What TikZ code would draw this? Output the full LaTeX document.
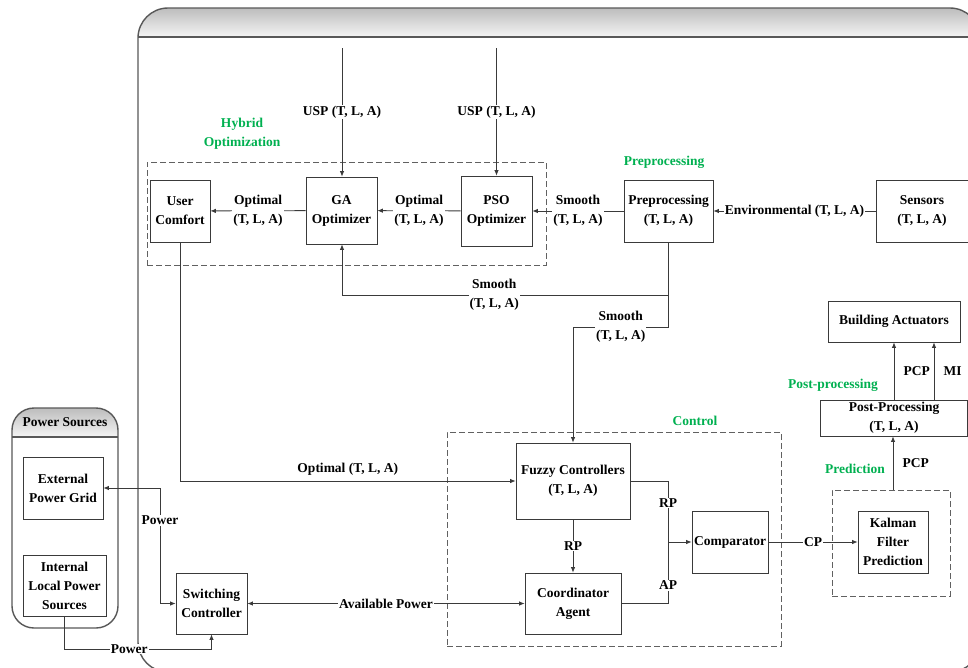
\documentclass[tikz,border=0pt]{standalone}
\usepackage{fontspec}
\setmainfont{Liberation Serif}
\usetikzlibrary{arrows.meta}
\definecolor{grp}{HTML}{00B050}
\definecolor{edge}{HTML}{3A3A3A}
\begin{document}
\begin{tikzpicture}[x=1pt,y=-1pt,
  font=\fontsize{13.5}{19}\selectfont\bfseries,
  box/.style={draw=edge,line width=0.8pt,align=center,inner sep=2pt,fill=white},
  lbl/.style={fill=white,inner sep=1pt,align=center},
  arr/.style={draw=edge,line width=0.8pt,-{Latex[length=5.5pt,width=4.5pt]}},
  arrb/.style={draw=edge,line width=0.8pt,{Latex[length=5.5pt,width=4.5pt]}-{Latex[length=5.5pt,width=4.5pt]}},
  wire/.style={draw=edge,line width=0.8pt},
  grpbox/.style={draw=edge!80,dashed,dash pattern=on 6pt off 3pt,line width=0.8pt,inner sep=0pt},
  grptitle/.style={text=grp,align=center},
  frame/.style={draw=edge!85,line width=1.4pt}]
\useasboundingbox (0,0) rectangle (968,667);

% main system frame with shaded header band
\begin{scope}
  \clip (0,0) rectangle (968,667);
  \begin{scope}
    \clip[rounded corners=30] (138,8) rectangle (980,672);
    \shade[top color=black!26,bottom color=black!4] (138,8) rectangle (980,37);
  \end{scope}
  \draw[frame,rounded corners=30] (138,8) rectangle (980,672);
  \draw[frame] (138,37) -- (980,37);
\end{scope}

% power sources panel
\begin{scope}
  \clip[rounded corners=22] (12,408) rectangle (118,628);
  \shade[top color=black!26,bottom color=black!4] (12,408) rectangle (118,437);
\end{scope}
\draw[frame,rounded corners=22] (12,408) rectangle (118,628);
\draw[frame] (12,437) -- (118,437);
\node (pstitle) at (65,422) {Power Sources};

% dashed groups
\node[grpbox,minimum width=399,minimum height=103] (hyb) at (346.5,213.5) {};
\node[grpbox,minimum width=334,minimum height=214] (ctl) at (614,539) {};
\node[grpbox,minimum width=118,minimum height=106] (pred) at (891,543) {};

% group titles
\node[grptitle] (thyb) at (242,134) {Hybrid\\Optimization};
\node[grptitle] (tpre) at (664,162) {Preprocessing};
\node[grptitle] (tctl) at (695,421) {Control};
\node[grptitle] (tpred) at (855,469) {Prediction};
\node[grptitle] (tpost) at (833,385) {Post-processing};

% blocks
\node[box,minimum width=60,minimum height=62] (uc) at (180,211) {User\\Comfort};
\node[box,minimum width=71,minimum height=67] (ga) at (341.5,210.5) {GA\\Optimizer};
\node[box,minimum width=71,minimum height=70] (pso) at (496.5,211) {PSO\\Optimizer};
\node[box,minimum width=89,minimum height=62] (pp) at (668.5,211) {Preprocessing\\(T, L, A)};
\node[box,minimum width=92,minimum height=62] (sen) at (922,211) {Sensors\\(T, L, A)};
\node[box,minimum width=132,minimum height=41] (ba) at (894,321.5) {Building Actuators};
\node[box,minimum width=147,minimum height=36] (post) at (894,418) {Post-Processing\\(T, L, A)};
\node[box,minimum width=114,minimum height=76] (fz) at (573,481) {Fuzzy Controllers\\(T, L, A)};
\node[box,minimum width=96,minimum height=61] (ca) at (573,603.5) {Coordinator\\Agent};
\node[box,minimum width=76,minimum height=62] (cmp) at (730,542) {Comparator};
\node[box,minimum width=70,minimum height=62] (kf) at (893,542) {Kalman\\Filter\\Prediction};
\node[box,minimum width=80,minimum height=62] (eg) at (63,488) {External\\Power Grid};
\node[box,minimum width=83,minimum height=61] (ip) at (64.5,585.5) {Internal\\Local Power\\Sources};
\node[box,minimum width=71,minimum height=61] (sw) at (211.5,603.5) {Switching\\Controller};

% junction points
\coordinate (usp1) at (342,48);
\coordinate (usp2) at (496.5,48);
\coordinate (j1) at (668.5,295);
\coordinate (j2) at (668.5,327);
\coordinate (jc) at (668,542);
\coordinate (pw) at (160,488);
\coordinate (pb) at (211.5,649);

% optimisation chain
\draw[arr] (usp1) -- node[lbl]{USP (T, L, A)} (usp1 |- ga.north);
\draw[arr] (usp2) -- node[lbl]{USP (T, L, A)} (pso.north);
\draw[arr] (ga) -- node[lbl]{Optimal\\(T, L, A)} (uc);
\draw[arr] (pso) -- node[lbl]{Optimal\\(T, L, A)} (ga);
\draw[arr] (pp) -- node[lbl]{Smooth\\(T, L, A)} (pso);
\draw[arr] (sen) -- node[lbl]{Environmental (T, L, A)} (pp);
\draw[arr] (pp.south) -- (j1) -| node[lbl,pos=0.267]{Smooth\\(T, L, A)} (usp1 |- ga.south);
\draw[arr] (j1) -- (j2) -| node[lbl,pos=0.25]{Smooth\\(T, L, A)} (fz.north);
\draw[arr] (uc.south) |- node[above=2pt,pos=0.75]{Optimal (T, L, A)} (fz.west);

% control loop
\draw[arr] (fz) -- node[lbl]{RP} (ca);
\draw[wire] (fz.east) -| node[lbl,pos=0.68]{RP} (jc);
\draw[wire] (ca.east) -| node[lbl,pos=0.65]{AP} (jc);
\draw[arr] (jc) -- (cmp.west);
\draw[arr] (cmp) -- node[lbl]{CP} (kf);
\draw[arr] (kf.north |- pred.north) -- node[right=6pt]{PCP} (kf.north |- post.south);
\draw[arr] (post.north) -- node[right=6pt]{PCP} (ba.south);
\draw[arr] ([xshift=40]post.north) -- node[right=6pt]{MI} ([xshift=40]ba.south);

% power distribution
\draw[arrb] (sw) -- node[lbl]{Available Power} (ca);
\draw[arrb] (eg.east) -- (pw) |- node[lbl,pos=0.14]{Power} (sw.west);
\draw[arr] (ip.south) |- node[lbl,pos=0.72]{Power} (pb) -- (sw.south);
\end{tikzpicture}
\end{document}
